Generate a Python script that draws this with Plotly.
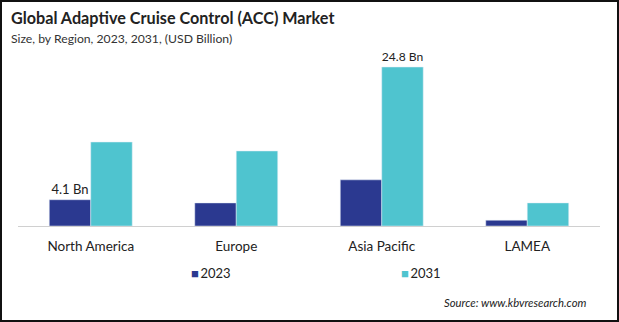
import plotly.graph_objects as go

regions = ["North America", "Europe", "Asia Pacific", "LAMEA"]
series_names = ["2023", "2031"]
values_2023 = [4.1, 3.6, 7.2, 0.9]
values_2031 = [13.1, 11.7, 24.8, 3.6]
labels_2023 = ["4.1 Bn", "", "", ""]
labels_2031 = ["", "", "24.8 Bn", ""]
colors = ["#2B3990", "#4FC4CF"]

W, H = 619, 322
ML, MR, MT, MB = 18, 19, 59, 96
FONT = "Lato"

fig = go.Figure()
for name, vals, labs, col in zip(series_names, [values_2023, values_2031],
                                 [labels_2023, labels_2031], colors):
    fig.add_trace(go.Bar(
        name=name, x=regions, y=vals, marker_color=col,
        text=labs, textposition="outside", cliponaxis=False,
        textfont=dict(family=FONT, size=13, color="#222222"),
    ))

pw = W - ML - MR
ph = H - MT - MB

fig.update_layout(
    width=W, height=H,
    margin=dict(l=ML, r=MR, t=MT, b=MB, autoexpand=False),
    paper_bgcolor="white", plot_bgcolor="white",
    barmode="group", bargap=0.43, bargroupgap=0,
    font=dict(family=FONT, color="#222222"),
    xaxis=dict(showline=True, linecolor="#D0D0D0", linewidth=1,
               tickfont=dict(family=FONT, size=13.5, color="#222222"),
               ticks="", ticklabelstandoff=8, showgrid=False, fixedrange=True),
    yaxis=dict(range=[0, 26.05], visible=False, showgrid=False, fixedrange=True),
    showlegend=False,
)

# legend drawn as text entries
legend_x = [189, 399]
for name, col, lx in zip(series_names, colors, legend_x):
    fig.add_annotation(
        text=f"<span style='color:{col}'>■</span>\u2009{name}",
        xref="paper", yref="paper", x=(lx - ML) / pw, y=-(273 - MT - ph) / ph,
        xanchor="left", yanchor="middle", showarrow=False,
        font=dict(family=FONT, size=13, color="#222222"),
    )

fig.add_annotation(
    text="<b>Global Adap\u200ctive Cruise Control (ACC) Market</b>",
    xref="paper", yref="paper", x=-(ML - 9) / pw, y=1 + (MT - 17) / ph,
    xanchor="left", yanchor="middle", showarrow=False,
    font=dict(family=FONT, size=16.2, color="#222222"),
)
fig.add_annotation(
    text="Size, by Region, 2023, 2031, (USD Billion)",
    xref="paper", yref="paper", x=-(ML - 9) / pw, y=1 + (MT - 39) / ph,
    xanchor="left", yanchor="middle", showarrow=False,
    font=dict(family=FONT, size=12.2, color="#333333"),
)
fig.add_annotation(
    text="<i>Source: www.kbvresearch.com</i>",
    xref="paper", yref="paper", x=(588 - ML) / pw, y=-(302 - MT - ph) / ph,
    xanchor="right", yanchor="middle", showarrow=False,
    font=dict(family=FONT, size=11.3, color="#222222"),
)
# outer frame
fig.add_shape(
    type="rect", xref="paper", yref="paper",
    x0=-(ML - 1) / pw, x1=1 + (MR - 1) / pw,
    y0=-(MB - 1) / ph, y1=1 + (MT - 1) / ph,
    line=dict(color="#111111", width=2), fillcolor="rgba(0,0,0,0)",
)

fig.write_html("out.html")
